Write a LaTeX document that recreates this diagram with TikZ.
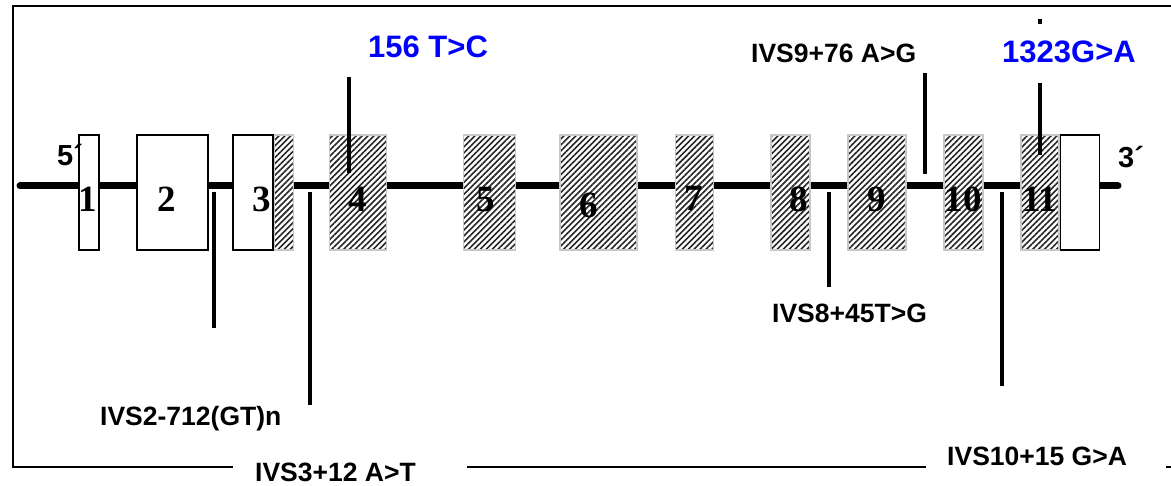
\documentclass[tikz,border=0pt]{standalone}
\usepackage{fontspec}
\setmainfont{Liberation Serif}
\setsansfont{Liberation Sans}
\usetikzlibrary{positioning,patterns.meta}

\begin{document}
\begin{tikzpicture}[x=1pt, y=-1pt,
  exon/.style={draw, line width=1.3pt, fill=white, inner sep=0pt, minimum height=115pt},
  coding/.style={exon, draw=black!22, line width=1.6pt, preaction={fill=white},
    pattern={Lines[angle=45, distance=4.2pt, line width=1.6pt]}, pattern color=black!85},
  num/.style={anchor=base, inner sep=0pt, font=\fontsize{37}{40}\selectfont\bfseries},
  lab/.style={anchor=base west, inner sep=0pt, font=\fontsize{26.5}{28}\selectfont\sffamily\bfseries},
  hot/.style={lab, font=\fontsize{31}{33}\selectfont\sffamily\bfseries, text=blue},
  endl/.style={lab, font=\fontsize{29}{31}\selectfont\sffamily\bfseries},
  mut/.style={line width=3.2pt},
  gene/.style={line width=7pt, line cap=round},
  frame/.style={line width=1.4pt}]
\useasboundingbox (0,0) rectangle (1171,486);
% frame
\coordinate (fr1) at (1171,6);
\coordinate (fr2) at (13,6);
\coordinate (fr3) at (13,467);
\coordinate (fr4) at (233,467);
\coordinate (fr5) at (467,467);
\coordinate (fr6) at (926,467);
\coordinate (fr7) at (1166,467);
\coordinate (fr8) at (1171,467);
\draw[frame] (fr1) -- (fr2) -- (fr3) -- (fr4);
\draw[frame] (fr5) -- (fr6);
\draw[frame] (fr7) -- (fr8);
% gene backbone
\coordinate (five) at (20,186);
\coordinate (three) at (1118,186);
\draw[gene] (five) -- (three);
% exons
\node[exon, minimum width=20pt] (e1) at (89,192.5) {};
\node[exon, minimum width=71pt] (e2) at (172.5,192.5) {};
\node[exon, minimum width=40pt] (e3) at (253,192.5) {};
\node[coding, minimum width=19pt, right=0pt of e3] (c3) {};
\node[coding, minimum width=57pt] (e4) at (358,192.5) {};
\node[coding, minimum width=52pt] (e5) at (489.5,192.5) {};
\node[coding, minimum width=77pt] (e6) at (598.5,192.5) {};
\node[coding, minimum width=38pt] (e7) at (694.5,192.5) {};
\node[coding, minimum width=39pt] (e8) at (790.5,192.5) {};
\node[coding, minimum width=58pt] (e9) at (877,192.5) {};
\node[coding, minimum width=39pt] (e10) at (963.5,192.5) {};
\node[coding, minimum width=38pt] (c11) at (1040,192.5) {};
\node[exon, minimum width=39pt, right=0pt of c11] (e11) {};
% exon numbers
\node[num] (n1) at (88,212) {1};
\node[num] (n2) at (167,212) {2};
\node[num] (n3) at (262,212) {3};
\node[num] (n4) at (358,212) {4};
\node[num] (n5) at (486,212) {5};
\node[num] (n6) at (589,218) {6};
\node[num] (n7) at (694,211) {7};
\node[num] (n8) at (799,212) {8};
\node[num] (n9) at (877,212) {9};
\node[num] (n10) at (963,212) {10};
\node[num] (n11) at (1040,212) {11};
\node[endl] (p5) at (57,166) {5´};
\node[endl] (p3) at (1118,168) {3´};
% mutations
\node[hot] (m156) at (368,58) {156 T>C};
\node[lab] (m9) at (751,63) {IVS9+76 A>G};
\node[hot] (m1323) at (1002,63) {1323G>A};
\node[lab] (m2) at (100,426) {IVS2-712(GT)n};
\node[lab] (m3) at (255,482) {IVS3+12 A>T};
\node[lab] (m8) at (772,323) {IVS8+45T>G};
\node[lab] (m10) at (947,465) {IVS10+15 G>A};
\coordinate (a156) at (349,77);   \coordinate (b156) at (349,173);
\coordinate (a9) at (925,73);     \coordinate (b9) at (925,174);
\coordinate (a1323) at (1040,83); \coordinate (b1323) at (1040,155);
\coordinate (t1) at (1040,19);    \coordinate (t2) at (1040,24);
\coordinate (a2) at (214,192);    \coordinate (b2) at (214,328);
\coordinate (a3) at (310,192);    \coordinate (b3) at (310,405);
\coordinate (a8) at (829,192);    \coordinate (b8) at (829,287);
\coordinate (a10) at (1002,192);  \coordinate (b10) at (1002,386);
\draw[mut] (a156) -- (b156);
\draw[mut] (a9) -- (b9);
\draw[mut] (a1323) -- (b1323);
\draw[mut] (t1) -- (t2);
\draw[mut] (a2) -- (b2);
\draw[mut] (a3) -- (b3);
\draw[mut] (a8) -- (b8);
\draw[mut] (a10) -- (b10);
\end{tikzpicture}
\end{document}
